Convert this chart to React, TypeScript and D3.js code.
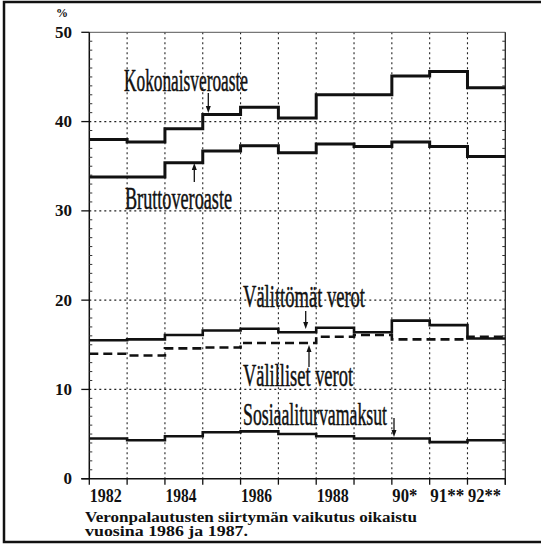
import React from "react";
import * as d3 from "d3";

const years = [1982, 1983, 1984, 1985, 1986, 1987, 1988, 1989, 1990, 1991, 1992];
const kokonais = [38.0, 37.7, 39.2, 40.8, 41.6, 40.4, 43.0, 43.0, 45.1, 45.6, 43.8];
const brutto = [33.8, 33.8, 35.4, 36.7, 37.3, 36.5, 37.5, 37.2, 37.7, 37.2, 36.1];
const valittomat = [15.5, 15.6, 16.1, 16.6, 16.8, 16.4, 16.9, 16.4, 17.7, 17.2, 15.7];
const valilliset = [14.0, 13.8, 14.6, 14.7, 15.2, 15.2, 15.9, 16.1, 15.6, 15.6, 15.9];
const sosiaali = [4.5, 4.3, 4.75, 5.2, 5.3, 5.0, 4.75, 4.5, 4.5, 4.1, 4.3];
const xTickLabels = ["1982", "1984", "1986", "1988", "90*", "91**", "92**"];
const xTickYears = [1982, 1984, 1986, 1988, 1990, 1991, 1992];
const xTickWidths = [32, 31, 31, 32, 25, 34, 33];
const yTicks = [0, 10, 20, 30, 40, 50];

const W = 541;
const H = 544;
const x = d3.scaleLinear().domain([1982, 1993]).range([89.3, 505.3]);
const y = d3.scaleLinear().domain([0, 50]).range([478.7, 32.3]);

function stepPath(vals: number[]) {
  const pts: [number, number][] = years.map((yr, i) => [yr, vals[i]]);
  pts.push([1993, vals[vals.length - 1]]);
  return d3
    .line<[number, number]>()
    .x((d) => x(d[0]))
    .y((d) => y(d[1]))
    .curve(d3.curveStepAfter)(pts) as string;
}

function Arrow({ x0, y0, y1 }: { x0: number; y0: number; y1: number }) {
  const dir = y1 > y0 ? 1 : -1;
  return (
    <g>
      <line x1={x0} x2={x0} y1={y0} y2={y1 - dir * 5} stroke="#111" strokeWidth={1.3} />
      <path d={`M${x0 - 2.5},${y1 - dir * 7} L${x0 + 2.5},${y1 - dir * 7} L${x0},${y1} Z`} fill="#111" />
    </g>
  );
}

export default function App() {
  const minor = d3.range(0, 51, 1).filter((v) => v % 10 !== 0);
  const boundaries = d3.range(1983, 1993);
  const labelFont = "'Liberation Serif', 'DejaVu Serif', serif";
  const lbl = {
    fontFamily: labelFont,
    fontSize: 31,
    lengthAdjust: "spacingAndGlyphs" as const,
    fill: "#111",
    stroke: "#111",
    strokeWidth: 0.5,
  };
  return (
    <svg
      width={W}
      height={H}
      style={{ position: "absolute", left: 0, top: 0, background: "#fff" }}
    >
      <rect x={0} y={0} width={W} height={H} fill="#fff" />
      {/* frame */}
      <rect x={4} y={2} width={560} height={540} fill="none" stroke="#111" strokeWidth={2.5} />

      {/* gridlines */}
      {boundaries.map((b) => (
        <line key={"v" + b} x1={x(b)} x2={x(b)} y1={y(50)} y2={y(0)} stroke="#222" strokeWidth={1.1} strokeDasharray="2,3" />
      ))}
      {[10, 20, 30, 40].map((v) => (
        <line key={"h" + v} x1={x(1982)} x2={x(1993)} y1={y(v)} y2={y(v)} stroke="#222" strokeWidth={1.1} strokeDasharray="2,3" />
      ))}
      <line x1={x(1982)} x2={x(1993)} y1={y(50)} y2={y(50)} stroke="#555" strokeWidth={1} />

      {/* axes */}
      <line x1={x(1982)} x2={x(1982)} y1={y(50)} y2={y(0)} stroke="#111" strokeWidth={1.5} />
      <line x1={x(1993)} x2={x(1993)} y1={y(50)} y2={y(0) + 6} stroke="#222" strokeWidth={1.3} />
      <line x1={x(1982) - 8} x2={x(1993)} y1={y(0)} y2={y(0)} stroke="#111" strokeWidth={1.5} />
      {yTicks.map((v) => (
        <line key={"mt" + v} x1={x(1982) - 8} x2={x(1982)} y1={y(v)} y2={y(v)} stroke="#111" strokeWidth={1.3} />
      ))}
      {minor.map((v) => (
        <g key={"mi" + v}>
          <line x1={x(1982)} x2={x(1982) + 3} y1={y(v)} y2={y(v)} stroke="#333" strokeWidth={1} />
          <line x1={x(1993) - 3} x2={x(1993)} y1={y(v)} y2={y(v)} stroke="#333" strokeWidth={1} />
        </g>
      ))}
      {d3.range(1982, 1994).map((b) => (
        <line key={"xt" + b} x1={x(b)} x2={x(b)} y1={y(0)} y2={y(0) + 6} stroke="#111" strokeWidth={1.3} />
      ))}

      {/* y labels */}
      <text x={62} y={17} textAnchor="middle" fontFamily={labelFont} fontWeight="bold" fontSize={12} fill="#111">%</text>
      {yTicks.map((v) => (
        <text key={"yl" + v} x={72} y={y(v) + 5.5} textAnchor="end" fontFamily={labelFont} fontWeight="bold" fontSize={17} fill="#111">
          {v}
        </text>
      ))}

      {/* x labels */}
      {xTickLabels.map((l, i) => (
        <text
          key={"xl" + l}
          x={x(xTickYears[i]) + 0.5}
          y={502}
          fontFamily={labelFont}
          fontWeight="bold"
          fontSize={18}
          textLength={xTickWidths[i]}
          lengthAdjust="spacingAndGlyphs"
          fill="#111"
        >
          {l}
        </text>
      ))}

      {/* series */}
      <path d={stepPath(kokonais)} fill="none" stroke="#111" strokeWidth={3} />
      <path d={stepPath(brutto)} fill="none" stroke="#111" strokeWidth={3} />
      <path d={stepPath(valittomat)} fill="none" stroke="#111" strokeWidth={2.6} />
      <path d={stepPath(valilliset)} fill="none" stroke="#111" strokeWidth={2.6} strokeDasharray="9,5" />
      <path d={stepPath(sosiaali)} fill="none" stroke="#111" strokeWidth={2.6} />

      {/* series labels */}
      <text x={124} y={91} textLength={124} {...lbl}>Kokonaisveroaste</text>
      <Arrow x0={208.3} y0={93} y1={113} />
      <text x={125} y={209} textLength={107} {...lbl}>Bruttoveroaste</text>
      <Arrow x0={194.3} y0={182} y1={163} />
      <text x={243} y={307} textLength={122} {...lbl}>Välittömät verot</text>
      <Arrow x0={305.7} y0={311} y1={329} />
      <text x={243} y={386} textLength={110} {...lbl}>Välilliset verot</text>
      <Arrow x0={309} y0={367} y1={345} />
      <text x={243} y={425} textLength={144} {...lbl}>Sosiaaliturvamaksut</text>
      <Arrow x0={394} y0={418} y1={437} />

      {/* caption */}
      <text x={85} y={522} fontFamily={labelFont} fontWeight="bold" fontSize={14} textLength={332} lengthAdjust="spacingAndGlyphs" fill="#111">
        Veronpalautusten siirtymän vaikutus oikaistu
      </text>
      <text x={85} y={536} fontFamily={labelFont} fontWeight="bold" fontSize={14} textLength={163} lengthAdjust="spacingAndGlyphs" fill="#111">
        vuosina 1986 ja 1987.
      </text>
    </svg>
  );
}
